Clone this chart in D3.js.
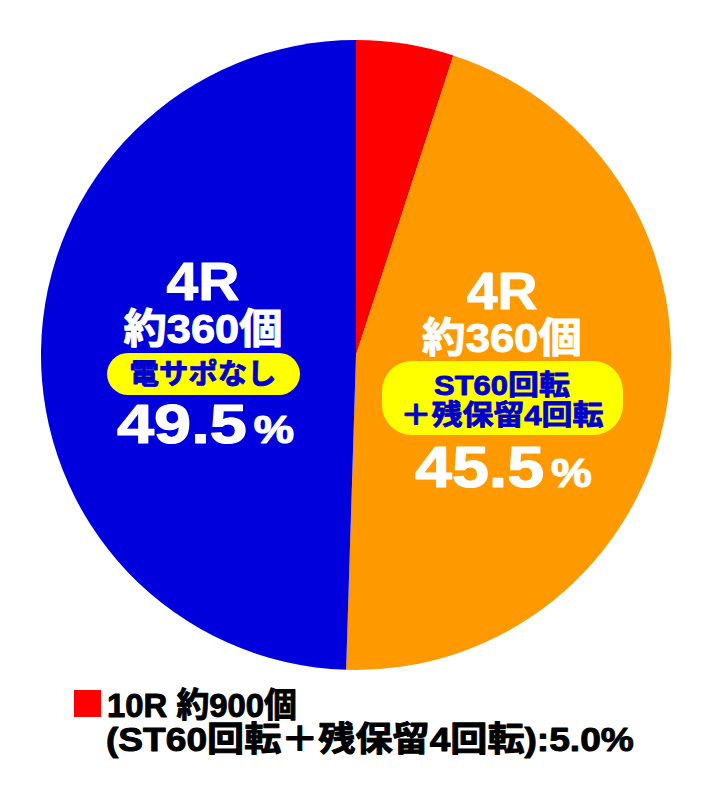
<!DOCTYPE html>
<html>
<head>
<meta charset="utf-8">
<script src="https://cdn.jsdelivr.net/npm/d3@7"></script>
<style>
  html, body { margin: 0; padding: 0; background: #ffffff; }
  svg { display: block; }
  text { font-family: "Liberation Sans", Arial, "Noto Sans CJK JP", sans-serif; font-weight: bold; }
</style>
</head>
<body>
<svg id="chart" width="712" height="796"></svg>
<script>
// ---- data ----
const categories = ["10R 約900個", "4R 約360個", "4R 約360個"];
const subLabels = ["(ST60回転＋残保留4回転)", ["ST60回転", "＋残保留4回転"], ["電サポなし"]];
const roundLabels = ["10R", "4R", "4R"];
const countLabels = ["約900個", "約360個", "約360個"];
const values = [5.0, 45.5, 49.5];
const colors = ["#ff0000", "#ff9900", "#0000dd"];

const svg = d3.select("#chart");
const cx = 356, cy = 355, R = 315;

const pie = d3.pie().sort(null).value(d => d).startAngle(0).endAngle(2 * Math.PI);
const arc = d3.arc().innerRadius(0).outerRadius(R);
const arcs = pie(values);

const g = svg.append("g").attr("transform", `translate(${cx},${cy})`);
g.selectAll("path").data(arcs).enter().append("path")
  .attr("d", arc)
  .attr("fill", (d, i) => colors[i]);

const fmt = d3.format(".1f");

// helper: multi-line text in one element, stretched horizontally so the widest line fits
function fitText(parent, opts) {
  const t = parent.append("text")
    .attr("text-anchor", opts.anchor || "middle")
    .attr("fill", opts.fill)
    .attr("font-size", opts.size);
  if (opts.family) t.attr("font-family", opts.family);
  if (opts.weight) t.attr("font-weight", opts.weight);
  if (opts.stroke) t.attr("stroke", opts.fill).attr("stroke-width", opts.stroke).attr("stroke-linejoin", "round");
  let maxLen = 0;
  if (opts.lines) {
    opts.lines.forEach((ln, k) => {
      const ts = t.append("tspan").attr("x", 0).attr("y", ln.dy || 0)
        .attr("font-size", ln.size || opts.size).text(ln.text);
      maxLen = Math.max(maxLen, ts.node().getComputedTextLength());
    });
  } else if (opts.parts) {
    opts.parts.forEach(p => t.append("tspan").attr("font-size", p.size || opts.size).attr("dx", p.dx || 0).text(p.text));
    maxLen = t.node().getComputedTextLength();
  } else {
    t.text(opts.text);
    maxLen = t.node().getComputedTextLength();
  }
  const sx = opts.width ? opts.width / maxLen : 1;
  t.attr("transform", `translate(${opts.x},${opts.y}) scale(${sx},1)`);
  return t;
}

// label layout (positions only)
const layouts = {
  2: { x: 203, r: 300, c: 343, rF: 54, cF: 41, cW: 159,
       pill: [107, 353, 193, 42], lineY: 374, lineGap: 30, lineF: 28, lineW: 147,
       p: 443, pF: 56, pctF: 38, pX: 117, pW: 170 },
  1: { x: 502, r: 309, c: 352, rF: 52, cF: 41, cW: 160,
       pill: [382, 361, 241, 74], lineY: 385, lineGap: 30, lineF: 28, lineW: 203,
       p: 487, pF: 58, pctF: 40, pX: 415, pW: 170 }
};

[2, 1].forEach(i => {
  const L = layouts[i];
  const lg = svg.append("g");
  fitText(lg, { x: L.x, y: L.r, size: L.rF, fill: "#fff", width: L.cW, stroke: 1,
    lines: [{ text: roundLabels[i], size: L.rF, dy: 0 }, { text: countLabels[i], size: L.cF, dy: L.c - L.r }] });
  const [px, py, pw, ph] = L.pill;
  lg.append("rect").attr("x", px).attr("y", py).attr("width", pw).attr("height", ph)
    .attr("rx", Math.min(ph / 2, 30)).attr("ry", Math.min(ph / 2, 30)).attr("fill", "#ffff00");
  fitText(lg, { x: L.x, y: L.lineY + L.lineF * 0.36, size: L.lineF, fill: "#0000cc",
    width: L.lineW, stroke: 0.9, family: "'Noto Sans CJK JP', sans-serif", weight: 900,
    lines: subLabels[i].map((t, k) => ({ text: t, dy: k * L.lineGap })) });
  fitText(lg, { x: L.pX, y: L.p, anchor: "start", size: L.pF, fill: "#fff", width: L.pW, stroke: 1.2,
    parts: [{ text: fmt(values[i]) }, { text: "%", size: L.pctF, dx: 6 }] });
});

// legend for the small red slice
const leg = svg.append("g");
leg.append("rect").attr("x", 74).attr("y", 690).attr("width", 27).attr("height", 27).attr("fill", colors[0]);
fitText(leg, { x: 107, y: 717, anchor: "start", size: 34, fill: "#000", width: 190, stroke: 1, text: categories[0] });
fitText(leg, { x: 106, y: 751, anchor: "start", size: 34, fill: "#000", width: 528, stroke: 1,
  text: subLabels[0] + ":" + fmt(values[0]) + "%" });
</script>
</body>
</html>
